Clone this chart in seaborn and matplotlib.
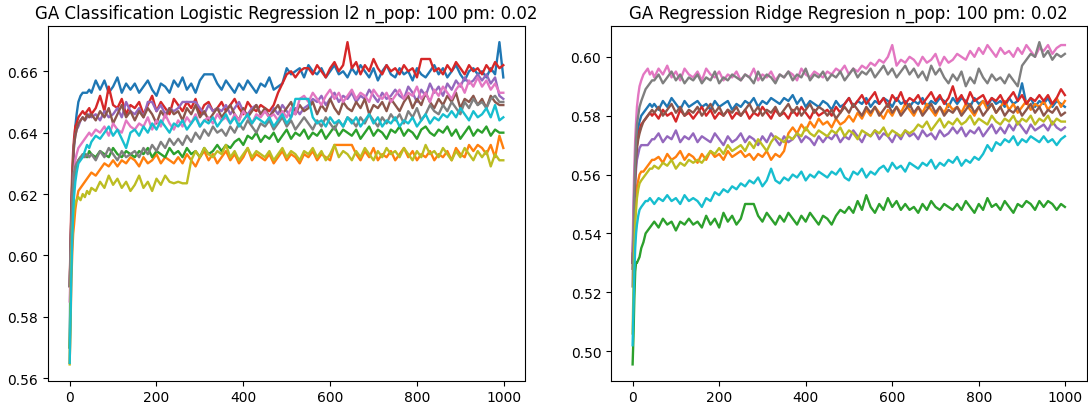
import matplotlib
matplotlib.use("Agg")
import matplotlib.pyplot as plt
import seaborn as sns
import pandas as pd

# generation index at which each value was read
gens = [0, 2, 4, 6, 8, 10, 13, 16, 20, 25, 30, 35, 40, 45] + list(range(50, 1000, 10)) + [999]

titles = ["GA Classification Logistic Regression l2 n_pop: 100 pm: 0.02",
          "GA Regression Ridge Regresion n_pop: 100 pm: 0.02"]

# ---------------- left panel (values in thousandths) ----------------
clf_run0 = [570, 600, 615, 624, 630, 636, 642, 646, 650, 652, 653, 653, 653, 654,
            653, 657, 654, 657, 653, 655, 658, 653, 656, 654,
            656, 653, 655, 657, 654, 652, 656, 655, 653, 657,
            655, 658, 654, 656, 653, 657, 659, 659, 659, 656,
            654, 657, 655, 653, 656, 654, 657, 655, 653, 656,
            655, 658, 654, 655, 656, 661, 659, 660, 661, 658,
            662, 660, 659, 661, 658, 660, 662, 659, 660, 658,
            661, 659, 662, 660, 658, 661, 657, 660, 662, 659,
            658, 661, 659, 660, 657, 661, 659, 658, 660, 662,
            659, 661, 658, 660, 662, 659, 657, 660, 661, 659,
            660, 658, 661, 659, 669.5,
            658]
clf_run1 = [565, 578, 592, 601, 607, 610, 615, 618, 621, 622, 623, 624, 625, 626,
            627, 626, 628, 630, 629, 631, 629, 631, 630, 632,
            631, 629, 632, 630, 631, 633, 630, 632, 631, 630,
            632, 630, 633, 631, 629, 632, 634, 631, 633, 630,
            632, 634, 631, 633, 630, 632, 635, 631, 633, 632,
            631, 633, 630, 632, 634, 631, 633, 632, 630, 633,
            632, 634, 631, 633, 632, 631, 636, 636, 636, 636,
            636, 633, 631, 634, 632, 635, 631, 633, 632, 634,
            631, 633, 635, 632, 634, 631, 633, 632, 634, 631,
            633, 632, 634, 631, 635, 633, 632, 636, 634, 636,
            635, 633, 636, 632, 639,
            635]
clf_run2 = [570, 588, 603, 613, 619, 623, 627, 629, 631, 632, 632, 633, 632, 634,
            633, 632, 634, 633, 632, 635, 633, 632, 634, 633,
            632, 634, 633, 635, 632, 634, 633, 632, 635, 633,
            634, 632, 635, 633, 634, 632, 635, 633, 634, 636,
            634, 636, 635, 637, 638, 636, 639, 638, 640, 637,
            639, 638, 640, 637, 639, 641, 638, 640, 639, 641,
            638, 640, 639, 641, 638, 640, 642, 639, 641, 640,
            639, 641, 638, 640, 642, 639, 641, 640, 638, 641,
            640, 642, 639, 641, 640, 638, 641, 642, 640, 639,
            641, 640, 642, 639, 641, 638, 640, 642, 639, 641,
            640, 642, 639, 641, 640,
            640]
clf_run3 = [590, 605, 618, 628, 634, 638, 642, 643, 645, 646, 647, 646, 647, 648,
            646, 648, 652, 647, 655, 649, 648, 651, 646, 649,
            648, 650, 646, 649, 652, 647, 650, 648, 646, 651,
            649, 647, 650, 648, 651, 646, 649, 650, 647, 648,
            650, 647, 649, 651, 648, 646, 650, 648, 647, 649,
            648, 647, 649, 653, 656, 659, 660, 658, 660, 661,
            661, 659, 662, 660, 658, 661, 663, 660, 662, 669.5,
            661, 663, 659, 662, 660, 664, 661, 659, 662, 660,
            661, 659, 662, 660, 661, 658, 664, 664, 664, 660,
            661, 659, 662, 660, 663, 661, 659, 662, 660, 661,
            659, 662, 660, 663, 661,
            662]
clf_run4 = [590, 600, 612, 622, 630, 636, 639, 641, 642, 644, 645, 644, 645, 646,
            645, 646, 644, 647, 645, 646, 648, 645, 650, 647,
            646, 648, 645, 650, 650, 647, 649, 646, 648, 647,
            648, 650, 650, 650, 650, 648, 646, 649, 647, 648,
            647, 649, 646, 648, 650, 647, 646, 648, 649, 646,
            647, 645, 648, 646, 649, 647, 645, 648, 646, 648,
            649, 651, 650, 652, 649, 651, 653, 650, 652, 651,
            653, 650, 652, 651, 654, 652, 650, 653, 651, 652,
            654, 652, 651, 655, 653, 650, 654, 652, 656, 653,
            655, 652, 656, 654, 657, 655, 658, 656, 657, 659,
            657, 659, 656, 658, 652,
            651]
clf_run5 = [590, 602, 614, 624, 631, 636, 639, 641, 643, 644, 645, 644, 646, 645,
            646, 644, 647, 645, 648, 643, 646, 649, 645, 647,
            644, 647, 645, 648, 646, 643, 647, 645, 648, 646,
            647, 644, 648, 646, 649, 645, 647, 644, 646, 648,
            645, 647, 649, 646, 644, 648, 645, 647, 649, 646,
            648, 645, 647, 649, 646, 648, 650, 646, 649, 647,
            648, 650, 646, 649, 647, 651, 648, 646, 650, 648,
            647, 650, 648, 651, 646, 649, 648, 650, 647, 651,
            649, 647, 650, 652, 648, 651, 649, 653, 650, 648,
            651, 649, 652, 650, 653, 648, 651, 650, 652, 649,
            651, 648, 652, 650, 649,
            649]
clf_run6 = [585, 595, 606, 615, 622, 627, 631, 633, 635, 636, 637, 638, 639, 640,
            639, 641, 640, 642, 639, 643, 641, 640, 644, 642,
            641, 643, 642, 645, 641, 644, 642, 646, 643, 641,
            644, 642, 645, 643, 646, 642, 644, 645, 643, 646,
            644, 645, 643, 646, 644, 647, 645, 643, 646, 645,
            647, 645, 646, 644, 647, 645, 648, 646, 651, 652,
            650, 653, 651, 649, 652, 654, 651, 653, 650, 652,
            654, 651, 653, 652, 650, 654, 652, 651, 653, 650,
            652, 654, 651, 653, 652, 655, 651, 653, 650, 654,
            652, 655, 653, 651, 654, 656, 653, 657, 655, 658,
            655, 657, 654, 656, 653,
            653]
clf_run7 = [590, 600, 610, 618, 623, 627, 629, 630, 631, 632, 633, 632, 633, 632,
            633, 631, 634, 632, 635, 633, 631, 634, 632, 633,
            634, 632, 635, 633, 636, 634, 637, 635, 638, 636,
            638, 636, 639, 637, 640, 638, 641, 639, 642, 640,
            641, 639, 642, 640, 643, 641, 644, 642, 640, 643,
            642, 644, 641, 643, 645, 642, 644, 641, 643, 645,
            643, 641, 644, 642, 645, 643, 641, 644, 642, 645,
            644, 642, 645, 643, 646, 644, 642, 645, 643, 646,
            644, 646, 643, 647, 645, 648, 644, 646, 649, 647,
            646, 649, 647, 650, 648, 646, 650, 648, 651, 649,
            650, 648, 651, 652, 650,
            650]
clf_run8 = [564.5, 585, 600, 608, 612, 615, 617, 618, 619, 618, 620, 619, 621, 620,
            622, 621, 624, 622, 626, 623, 625, 622, 624, 621,
            623, 626, 622, 624, 621, 625, 623, 626, 624, 623.5,
            624, 623.5, 623.5, 631, 634, 632, 635, 633, 632, 634,
            633, 636, 632, 634, 631, 633, 635, 632, 634, 633,
            632, 634, 631, 633, 635, 632, 634, 633, 631, 634,
            633, 635, 632, 634, 631, 633, 636, 632, 634, 633,
            631, 634, 632, 635, 633, 631, 634, 632, 635, 633,
            634, 632, 635, 633, 631, 634, 632, 636, 633, 634,
            632, 635, 633, 631, 634, 632, 635, 633, 631, 634,
            632, 634, 629, 633, 631,
            631]
clf_run9 = [565, 580, 595, 606, 614, 619, 624, 627, 630, 631, 632, 634, 636, 635,
            637, 639, 638, 640, 642, 639, 641, 638, 635, 640,
            641, 639, 642, 640, 643, 641, 644, 642, 640, 643,
            642, 644, 641, 643, 645, 642, 644, 643, 645, 642,
            644, 646, 643, 645, 642, 644, 646, 643, 645, 644,
            643, 645, 642, 644, 646, 643, 645, 651, 651, 651,
            651, 645, 643, 644, 642, 645, 643, 644, 642, 645,
            643, 645, 642, 644, 646, 643, 645, 642, 644, 643,
            645, 642, 644, 643, 645, 642, 644, 646, 643, 645,
            644, 646, 645, 647, 645, 648, 646, 644, 647, 645,
            646, 648, 645, 649, 644,
            645]

# ---------------- right panel (values in thousandths) ----------------
reg_run0 = [530, 545, 556, 564, 569, 573, 576, 578, 580, 581, 582, 583, 584, 583,
            584, 582, 585, 583, 586, 584, 582, 585, 583, 584,
            585, 583, 584, 582, 585, 583, 584, 585, 582, 584,
            583, 585, 584, 586, 583, 585, 584, 586, 585, 584,
            586, 585, 587, 584, 586, 583, 585, 584, 583, 585,
            584, 582, 585, 583, 584, 586, 583, 585, 584, 586,
            583, 585, 584, 586, 585, 583, 586, 584, 585, 583,
            585, 584, 586, 583, 585, 584, 586, 585, 583, 586,
            584, 586, 585, 583, 586, 584, 585, 583, 586, 584,
            585, 583, 586, 584, 585, 591, 584, 586, 583, 585,
            584, 586, 583, 585, 584,
            583]
reg_run1 = [530, 538, 545, 550, 553, 556, 558, 560, 561, 561, 562, 563, 564, 565,
            565, 566, 564, 567, 565, 566, 568, 565, 567, 566,
            564, 567, 565, 568, 566, 567, 565, 568, 566, 567,
            568, 566, 567, 565, 567, 566, 568, 565, 567, 566,
            568, 574, 576, 574, 577, 575, 578, 576, 579, 577,
            578, 576, 579, 577, 578, 580, 578, 581, 579, 582,
            580, 583, 581, 579, 582, 580, 583, 581, 584, 582,
            580, 583, 581, 584, 582, 580, 583, 581, 584, 582,
            583, 581, 584, 582, 580, 583, 585, 582, 584, 581,
            583, 585, 582, 584, 581, 583, 585, 582, 584, 583,
            585, 582, 584, 586, 583,
            585]
reg_run2 = [495.5, 505, 518, 527, 530, 530, 531, 532, 535, 537, 540, 541, 542, 543,
            544, 542, 545, 543, 544, 541, 544, 543, 545, 543,
            544, 542, 546, 543, 545, 542, 547, 544, 546, 543,
            545, 550, 550, 550, 546, 544, 547, 545, 543, 546,
            544, 547, 545, 543, 546, 544, 547, 545, 543, 546,
            545, 543, 546, 548, 547, 549, 547, 551, 548, 553,
            549, 547, 550, 548, 552, 549, 551, 548, 550, 548,
            549, 547, 550, 548, 551, 549, 548, 550, 549, 548,
            550, 548, 551, 549, 547, 550, 548, 552, 549, 550,
            548, 551, 549, 547, 550, 549, 551, 550, 548, 551,
            549, 551, 550, 548, 550,
            549]
reg_run3 = [530, 542, 552, 560, 566, 570, 573, 575, 577, 578, 579, 580, 581, 580,
            581, 579, 582, 580, 581, 578, 582, 580, 581, 579,
            581, 583, 580, 582, 579, 581, 580, 582, 579, 581,
            580, 582, 579, 581, 580, 583, 581, 579, 582, 580,
            581, 579, 582, 580, 583, 581, 579, 582, 580, 581,
            582, 580, 583, 581, 584, 586, 583, 585, 587, 584,
            586, 588, 584, 586, 583, 587, 585, 588, 584, 586,
            585, 587, 584, 586, 588, 585, 587, 584, 586, 590,
            585, 587, 584, 588, 585, 586, 587, 584, 586, 585,
            587, 584, 586, 588, 585, 587, 584, 586, 585, 587,
            585, 587, 584, 586, 589,
            587]
reg_run4 = [530, 540, 550, 557, 562, 565, 567, 569, 570, 570, 570, 570, 571, 572,
            572, 574, 571, 573, 572, 575, 571, 573, 572, 574,
            571, 573, 572, 571, 574, 572, 570, 573, 571, 572,
            574, 571, 573, 572, 570, 573, 571, 574, 572, 570,
            573, 571, 572, 574, 571, 573, 572, 570, 573, 571,
            573, 572, 574, 571, 573, 572, 575, 573, 571, 574,
            573, 575, 572, 574, 573, 571, 574, 572, 575, 573,
            574, 572, 575, 573, 574, 572, 575, 573, 574, 576,
            574, 576, 573, 575, 574, 576, 573, 575, 577, 574,
            576, 574, 577, 575, 578, 576, 574, 577, 575, 576,
            577, 575, 578, 576, 575,
            576]
reg_run5 = [528, 540, 551, 559, 565, 569, 572, 574, 576, 578, 579, 580, 581, 582,
            581, 583, 580, 582, 584, 581, 583, 580, 582, 581,
            583, 580, 582, 584, 581, 583, 580, 582, 581, 583,
            580, 582, 584, 581, 583, 580, 582, 581, 583, 580,
            582, 584, 581, 583, 580, 582, 584, 581, 583, 582,
            580, 582, 579, 581, 583, 581, 584, 582, 580, 583,
            581, 583, 580, 582, 584, 581, 583, 580, 582, 584,
            581, 583, 580, 582, 584, 581, 583, 580, 582, 581,
            583, 580, 582, 584, 581, 583, 580, 582, 584, 581,
            583, 580, 582, 581, 583, 580, 582, 584, 581, 583,
            580, 582, 581, 583, 580,
            581]
reg_run6 = [534, 551, 563, 572, 578, 583, 587, 590, 592, 594, 595, 596, 594, 595,
            593, 596, 594, 597, 593, 595, 592, 596, 594, 593,
            595, 592, 596, 594, 593, 595, 592, 594, 593, 595,
            592, 594, 593, 596, 592, 594, 593, 595, 592, 594,
            593, 595, 594, 592, 596, 594, 593, 595, 594, 593,
            595, 594, 596, 595, 597, 594, 596, 595, 597, 596,
            598, 597, 599, 598, 600, 604, 597, 599, 598, 600,
            599, 597, 600, 598, 599, 601, 597, 600, 598, 599,
            601, 600, 599, 602, 600, 603, 601, 604, 602, 600,
            603, 601, 602, 600, 603, 601, 604, 602, 600, 603,
            602, 604, 601, 603, 604,
            604]
reg_run7 = [522, 540, 555, 565, 572, 577, 580, 583, 585, 587, 589, 590, 591, 592,
            592, 594, 591, 593, 595, 592, 594, 591, 593, 592,
            594, 591, 593, 592, 595, 591, 593, 592, 594, 593,
            592, 594, 593, 591, 595, 592, 594, 593, 591, 594,
            593, 595, 592, 594, 593, 596, 592, 594, 593, 595,
            592, 594, 593, 595, 592, 594, 596, 593, 595, 594,
            596, 593, 595, 597, 594, 596, 593, 595, 597, 594,
            596, 593, 595, 592, 597, 594, 596, 593, 591, 594,
            592, 595, 590, 593, 591, 596, 593, 591, 594, 592,
            593, 591, 594, 592, 590, 597, 599, 601, 600, 605,
            600, 602, 599, 601, 600,
            601]
reg_run8 = [506, 522, 535, 543, 548, 552, 555, 557, 558, 559, 560, 561, 562, 562,
            563, 562, 564, 563, 565, 562, 564, 563, 565, 564,
            565, 564, 566, 568, 567, 569, 567, 570, 568, 569,
            570, 568, 571, 569, 572, 570, 568, 571, 573, 572,
            571, 573, 572, 574, 573, 576, 574, 573, 575, 574,
            573, 575, 574, 576, 573, 575, 574, 572, 575, 574,
            573, 575, 574, 576, 573, 575, 574, 573, 575, 574,
            575, 577, 576, 578, 575, 577, 579, 576, 578, 577,
            579, 577, 578, 580, 577, 579, 578, 577, 580, 578,
            577, 579, 578, 580, 577, 579, 578, 580, 577, 579,
            578, 580, 577, 579, 578,
            578]
reg_run9 = [502, 515, 527, 535, 540, 543, 546, 548, 549, 550, 551, 551, 552, 551,
            550, 552, 551, 553, 551, 552, 550, 553, 551, 552,
            551, 549, 552, 551, 554, 553, 555, 554, 556, 555,
            557, 556, 558, 557, 559, 556, 558, 562, 558, 557,
            559, 558, 560, 559, 561, 558, 560, 559, 561, 560,
            559, 561, 560, 562, 559, 558, 561, 560, 562, 559,
            561, 560, 562, 563, 561, 564, 562, 563, 561, 564,
            563, 562, 564, 563, 565, 562, 564, 563, 565, 564,
            566, 563, 565, 564, 566, 565, 567, 570, 568, 571,
            570, 572, 571, 573, 570, 572, 571, 573, 572, 571,
            573, 571, 572, 570, 572,
            573]

clf_runs = [clf_run0, clf_run1, clf_run2, clf_run3, clf_run4,
            clf_run5, clf_run6, clf_run7, clf_run8, clf_run9]
reg_runs = [reg_run0, reg_run1, reg_run2, reg_run3, reg_run4,
            reg_run5, reg_run6, reg_run7, reg_run8, reg_run9]


def to_frame(runs):
    rows = []
    for i, vals in enumerate(runs):
        assert len(vals) == len(gens), (i, len(vals))
        for g, v in zip(gens, vals):
            rows.append({"gen": g, "fitness": v / 1000.0, "run": i})
    return pd.DataFrame(rows)


palette = sns.color_palette("tab10", 10)

fig = plt.figure(figsize=(10.88, 4.06), dpi=100)
ax1 = fig.add_axes([48 / 1088, 24.5 / 406, 477 / 1088, 354.5 / 406])
ax2 = fig.add_axes([611 / 1088, 24.5 / 406, 475.5 / 1088, 354.5 / 406])

for ax, runs, title in [(ax1, clf_runs, titles[0]), (ax2, reg_runs, titles[1])]:
    df = to_frame(runs)
    sns.lineplot(data=df, x="gen", y="fitness", hue="run", palette=palette,
                 hue_order=list(range(10)), estimator=None, legend=False,
                 linewidth=1.7, ax=ax)
    ax.set_title(title, fontsize=12)
    ax.set_xlabel("")
    ax.set_ylabel("")
    ax.set_xticks([0, 200, 400, 600, 800, 1000])

fig.savefig("out.png", dpi=100)
